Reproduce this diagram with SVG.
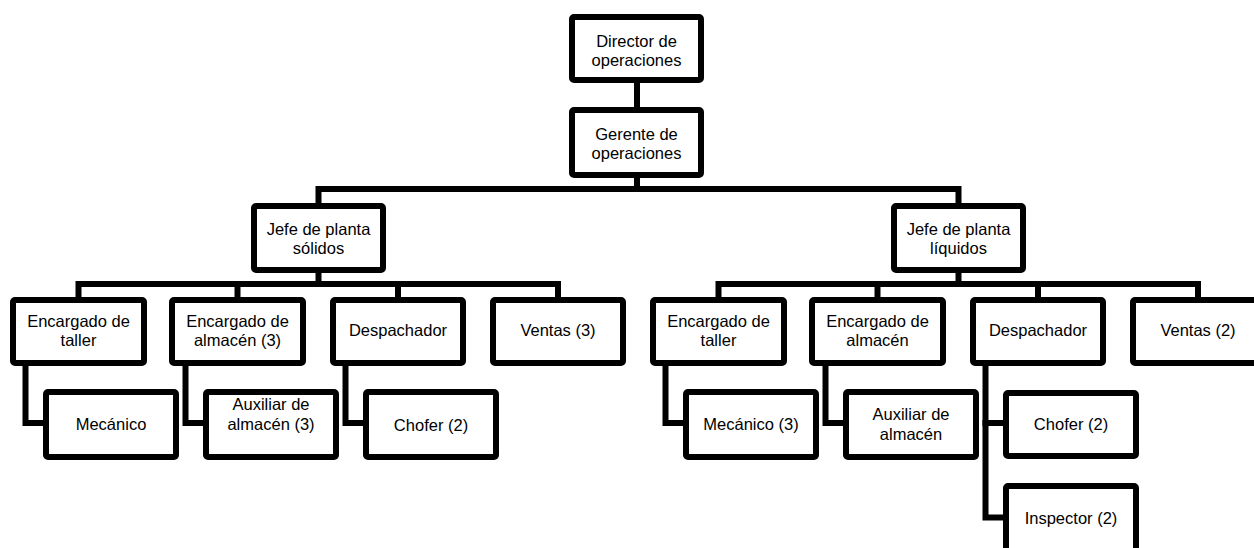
<svg xmlns="http://www.w3.org/2000/svg" width="1254" height="548" viewBox="0 0 1254 548">
  <style>
    .box { fill: #ffffff; stroke: #000000; stroke-width: 6; }
    .link { fill: none; stroke: #000000; stroke-width: 6; stroke-linejoin: miter; stroke-linecap: square; }
    text { font-family: "Liberation Sans", Arial, sans-serif; font-size: 16.5px; fill: #000000; text-anchor: middle; }
  </style>
  <rect width="1254" height="548" fill="#ffffff"/>

  <!-- connectors -->
  <g id="connectors">
    <path class="link" d="M637 83 V107"/>
    <path class="link" d="M637 178 V189"/>
    <path class="link" d="M318.5 203 V189 H958.5 V203"/>
    <!-- solid plant branch -->
    <path class="link" d="M318.5 273 V284"/>
    <path class="link" d="M78.5 297 V284 H558 V297"/>
    <path class="link" d="M237.5 284 V297"/>
    <path class="link" d="M398 284 V297"/>
    <path class="link" d="M25.5 366 V423 H43"/>
    <path class="link" d="M185.5 366 V423 H203"/>
    <path class="link" d="M345.5 366 V423 H363"/>
    <!-- liquid plant branch -->
    <path class="link" d="M958.5 273 V284"/>
    <path class="link" d="M718.5 297 V284 H1198 V297"/>
    <path class="link" d="M877.5 284 V297"/>
    <path class="link" d="M1038 284 V297"/>
    <path class="link" d="M665.5 366 V423 H683"/>
    <path class="link" d="M825.5 366 V423 H843"/>
    <path class="link" d="M985.5 366 V517.5 H1003"/>
    <path class="link" d="M985.5 423 H1003"/>
  </g>

  <g id="director">
    <rect class="box" x="572" y="17" width="129" height="63" rx="2"/>
    <text x="636.5" y="46.5">Director de</text>
    <text x="636.5" y="65.5">operaciones</text>
  </g>
  <g id="gerente">
    <rect class="box" x="572" y="110" width="129" height="65" rx="2"/>
    <text x="636.5" y="140">Gerente de</text>
    <text x="636.5" y="159">operaciones</text>
  </g>

  <g id="jefe-solidos">
    <rect class="box" x="254" y="206" width="129" height="64" rx="2"/>
    <text x="318.5" y="235">Jefe de planta</text>
    <text x="318.5" y="254">sólidos</text>
  </g>
  <g id="jefe-liquidos">
    <rect class="box" x="894" y="206" width="129" height="64" rx="2"/>
    <text x="958.5" y="235">Jefe de planta</text>
    <text x="958.5" y="254">líquidos</text>
  </g>

  <!-- solid plant staff -->
  <g id="s-taller">
    <rect class="box" x="13" y="300" width="131" height="63" rx="2"/>
    <text x="78.5" y="326.5">Encargado de</text>
    <text x="78.5" y="346">taller</text>
  </g>
  <g id="s-almacen">
    <rect class="box" x="172" y="300" width="131" height="63" rx="2"/>
    <text x="237.5" y="326.5">Encargado de</text>
    <text x="237.5" y="346">almacén (3)</text>
  </g>
  <g id="s-despachador">
    <rect class="box" x="333" y="300" width="130" height="63" rx="2"/>
    <text x="398" y="336">Despachador</text>
  </g>
  <g id="s-ventas">
    <rect class="box" x="493" y="300" width="130" height="63" rx="2"/>
    <text x="558" y="336">Ventas (3)</text>
  </g>
  <g id="s-mecanico">
    <rect class="box" x="46" y="392" width="130" height="65" rx="2"/>
    <text x="111" y="430">Mecánico</text>
  </g>
  <g id="s-auxiliar">
    <rect class="box" x="206" y="392" width="130" height="65" rx="2"/>
    <text x="271" y="410">Auxiliar de</text>
    <text x="271" y="430">almacén (3)</text>
  </g>
  <g id="s-chofer">
    <rect class="box" x="366" y="392" width="130" height="65" rx="2"/>
    <text x="431" y="430.5">Chofer (2)</text>
  </g>

  <!-- liquid plant staff -->
  <g id="l-taller">
    <rect class="box" x="653" y="300" width="131" height="63" rx="2"/>
    <text x="718.5" y="326.5">Encargado de</text>
    <text x="718.5" y="346">taller</text>
  </g>
  <g id="l-almacen">
    <rect class="box" x="812" y="300" width="131" height="63" rx="2"/>
    <text x="877.5" y="326.5">Encargado de</text>
    <text x="877.5" y="346">almacén</text>
  </g>
  <g id="l-despachador">
    <rect class="box" x="973" y="300" width="130" height="63" rx="2"/>
    <text x="1038" y="336">Despachador</text>
  </g>
  <g id="l-ventas">
    <rect class="box" x="1133" y="300" width="130" height="63" rx="2"/>
    <text x="1198" y="336">Ventas (2)</text>
  </g>
  <g id="l-mecanico">
    <rect class="box" x="686" y="392" width="130" height="65" rx="2"/>
    <text x="751" y="430">Mecánico (3)</text>
  </g>
  <g id="l-auxiliar">
    <rect class="box" x="846" y="392" width="130" height="65" rx="2"/>
    <text x="911" y="420">Auxiliar de</text>
    <text x="911" y="440">almacén</text>
  </g>
  <g id="l-chofer">
    <rect class="box" x="1006" y="393" width="130" height="63" rx="2"/>
    <text x="1071" y="430">Chofer (2)</text>
  </g>
  <g id="l-inspector">
    <rect class="box" x="1006" y="486" width="130" height="65" rx="2"/>
    <text x="1071" y="524">Inspector (2)</text>
  </g>
</svg>
